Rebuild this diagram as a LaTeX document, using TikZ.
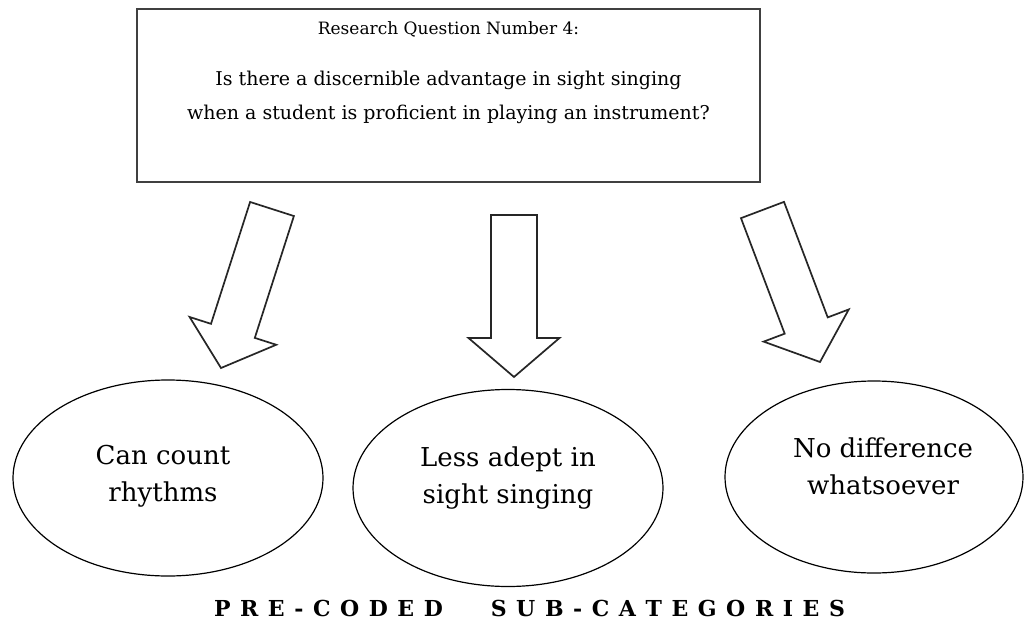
\documentclass[tikz,border=0pt]{standalone}
\usepackage{fontspec}
\setmainfont{DejaVu Serif}
\usetikzlibrary{shapes.geometric,calc}

% hollow block arrow from a tail point to a tip point
\newcommand\hollowarrow[2]{%
  \coordinate (#1head) at ($(#2)!39pt!(#1)$);
  \draw[blockarrow]
    ($(#1)!23pt!90:(#2)$) -- ($(#1head)!23pt!90:(#2)$) --
    ($(#1head)!45.5pt!90:(#2)$) -- (#2) --
    ($(#1head)!45.5pt!-90:(#2)$) -- ($(#1head)!23pt!-90:(#2)$) --
    ($(#1)!23pt!-90:(#2)$) -- cycle;}

\begin{document}
\begin{tikzpicture}[x=1pt,y=-1pt,
  qbox/.style={draw=black!75, line width=1.7pt, rectangle,
    minimum width=623pt, minimum height=173pt, inner sep=0pt},
  qtitle/.style={font=\fontsize{17}{20}\selectfont, inner sep=0pt},
  qtext/.style={font=\fontsize{19}{34}\selectfont, align=center, inner sep=0pt},
  blockarrow/.style={draw=black!85, line width=1.7pt, line join=miter, fill=white},
  bubble/.style={draw=black, line width=1.2pt, ellipse, inner sep=0pt},
  bubbletext/.style={font=\fontsize{26}{37}\selectfont, align=center, inner sep=0pt},
  caption/.style={font=\bfseries\fontsize{22}{26}\selectfont, inner sep=0pt}]

\fill[white] (0,0) rectangle (1026,635);
\useasboundingbox (0,0) rectangle (1026,635);

% research question
\node[qbox] (question) at (448.5,95.5) {};
\node[qtitle] (qtitle) at (448.5,29) {Research Question Number 4:};
\node[qtext] (qbody) at (448.5,97)
  {Is there a discernible advantage in sight singing\\
   when a student is proficient in playing an instrument?};

% arrows towards the sub-categories
\coordinate (leftT) at (272,209);   \coordinate (leftP) at (221,368);
\coordinate (midT) at (514,215);    \coordinate (midP) at (514,377);
\coordinate (rightT) at (762.5,210); \coordinate (rightP) at (820,362);
\hollowarrow{leftT}{leftP}
\hollowarrow{midT}{midP}
\hollowarrow{rightT}{rightP}

% sub-categories
\node[bubble, minimum width=310pt, minimum height=196pt] (rhythms) at (168,478) {};
\node[bubble, minimum width=310pt, minimum height=197pt] (adept) at (508,488) {};
\node[bubble, minimum width=298pt, minimum height=192pt] (nodiff) at (874,477) {};
\node[bubbletext] (rhythmsT) at (163,476) {Can count\\rhythms};
\node[bubbletext] (adeptT) at (508,478) {Less adept in\\sight singing};
\node[bubbletext] (nodiffT) at (883,466) {No difference\\whatsoever};

% caption
\node[caption] (caption) at (529.5,608)
  {\hbox to 631pt{P\hfil R\hfil E\hfil -\hfil C\hfil O\hfil D\hfil E\hfil D%
   \hfil\hfil\hfil\hfil\hfil
   S\hfil U\hfil B\hfil -\hfil C\hfil A\hfil T\hfil E\hfil G\hfil O\hfil R\hfil I\hfil E\hfil S}};
\end{tikzpicture}
\end{document}
